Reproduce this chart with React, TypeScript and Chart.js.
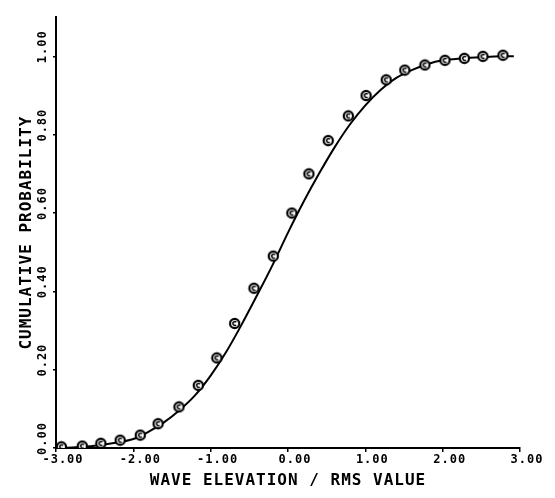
import React, { useEffect, useRef } from "react";
import { Chart, registerables } from "chart.js";

Chart.register(...registerables);

// Smooth theoretical curve
const curveX = [-3.0, -2.75, -2.5, -2.25, -2.0, -1.8, -1.6, -1.4, -1.2, -1.0, -0.8, -0.6, -0.4, -0.2, 0.0, 0.2, 0.4, 0.6, 0.8, 1.0, 1.2, 1.4, 1.6, 1.8, 2.0, 2.25, 2.5, 2.75, 2.92];
const curveY = [0.0, 0.002, 0.006, 0.013, 0.023, 0.042, 0.066, 0.097, 0.135, 0.185, 0.245, 0.315, 0.39, 0.467, 0.55, 0.628, 0.7, 0.767, 0.826, 0.875, 0.915, 0.945, 0.965, 0.98, 0.99, 0.995, 0.998, 1.0, 1.0];

// Measured samples (circle markers)
const sampleX = [-2.93, -2.66, -2.42, -2.17, -1.91, -1.68, -1.41, -1.16, -0.92, -0.69, -0.44, -0.19, 0.05, 0.27, 0.52, 0.78, 1.01, 1.27, 1.51, 1.77, 2.03, 2.28, 2.52, 2.78];
const sampleY = [0.003, 0.005, 0.012, 0.02, 0.033, 0.062, 0.105, 0.16, 0.23, 0.318, 0.408, 0.49, 0.6, 0.7, 0.785, 0.848, 0.9, 0.94, 0.965, 0.978, 0.99, 0.995, 1.0, 1.003];

const xTicks = [-3, -2, -1, 0, 1, 2, 3];
const yTicks = [0, 0.2, 0.4, 0.6, 0.8, 1.0];
const xTitle = "WAVE ELEVATION / RMS VALUE";
const yTitle = "CUMULATIVE PROBABILITY";

const FONT = "'DejaVu Sans Mono', monospace";

function makeMarker(): HTMLCanvasElement {
  const c = document.createElement("canvas");
  c.width = 13;
  c.height = 13;
  const g = c.getContext("2d")!;
  g.fillStyle = "#fff";
  g.beginPath();
  g.arc(6.5, 6.5, 4.6, 0, Math.PI * 2);
  g.fill();
  g.strokeStyle = "#000";
  g.lineWidth = 2.2;
  g.stroke();
  g.lineWidth = 1.5;
  g.beginPath();
  g.arc(6.8, 6.5, 1.9, Math.PI * 0.3, Math.PI * 1.75);
  g.stroke();
  return c;
}

export default function App() {
  const ref = useRef<HTMLCanvasElement>(null);

  useEffect(() => {
    const marker = makeMarker();
    const spacing = {
      id: "spacing",
      beforeDraw(chart: any) {
        (chart.ctx as any).letterSpacing = "1px";
      },
    };
    const chart = new Chart(ref.current!, {
      type: "scatter",
      data: {
        datasets: [
          {
            data: curveX.map((x, i) => ({ x, y: curveY[i] })),
            showLine: true,
            borderColor: "#000",
            borderWidth: 2,
            pointRadius: 0,
            cubicInterpolationMode: "monotone",
            order: 2,
          } as any,
          {
            data: sampleX.map((x, i) => ({ x, y: sampleY[i] })),
            showLine: false,
            pointStyle: marker,
            pointRadius: 6,
            order: 1,
          } as any,
        ],
      },
      options: {
        animation: false,
        responsive: false,
        devicePixelRatio: 1,
        layout: { padding: { left: 17, right: 35, top: 8, bottom: 0 } },
        plugins: { legend: { display: false }, tooltip: { enabled: false } },
        scales: {
          x: {
            type: "linear",
            min: -3,
            max: 3,
            afterBuildTicks: (s: any) => {
              s.ticks = xTicks.map((v) => ({ value: v }));
            },
            afterFit: (s: any) => {
              s.height = 50;
            },
            border: { display: true, color: "#000", width: 2 },
            grid: { display: true, drawOnChartArea: false, drawTicks: true, tickLength: 4, color: "#000", lineWidth: 1.5 },
            ticks: {
              callback: (v: any) => Number(v).toFixed(2),
              font: { family: FONT, size: 12, weight: "bold" },
              color: "#000",
              padding: 1,
              labelOffset: 7,
              minRotation: 0,
              maxRotation: 0,
              autoSkip: false,
            },
            title: {
              display: true,
              text: xTitle,
              color: "#000",
              font: { family: FONT, size: 16, weight: "bold" },
              padding: { top: 0, bottom: 8 },
            },
          },
          y: {
            type: "linear",
            min: 0,
            max: 1.1,
            afterBuildTicks: (s: any) => {
              s.ticks = yTicks.map((v) => ({ value: v }));
            },
            afterFit: (s: any) => {
              s.width = 39;
            },
            border: { display: true, color: "#000", width: 2 },
            grid: { display: true, drawOnChartArea: false, drawTicks: true, tickLength: 3, color: "#000", lineWidth: 1.5 },
            ticks: {
              callback: (v: any) => Number(v).toFixed(2),
              font: { family: FONT, size: 12, weight: "bold" },
              color: "#000",
              padding: 10,
              minRotation: 90,
              maxRotation: 90,
              crossAlign: "near",
              labelOffset: -26,
              autoSkip: false,
            },
            title: {
              display: true,
              text: yTitle,
              color: "#000",
              font: { family: FONT, size: 16, weight: "bold" },
              padding: { top: 0, bottom: 0 },
            },
          },
        },
      } as any,
      plugins: [spacing],
    });
    return () => chart.destroy();
  }, []);

  return (
    <div style={{ position: "fixed", left: 0, top: 0, width: 555, height: 498, background: "#fff" }}>
      <canvas ref={ref} width={555} height={498} style={{ display: "block" }} />
    </div>
  );
}
